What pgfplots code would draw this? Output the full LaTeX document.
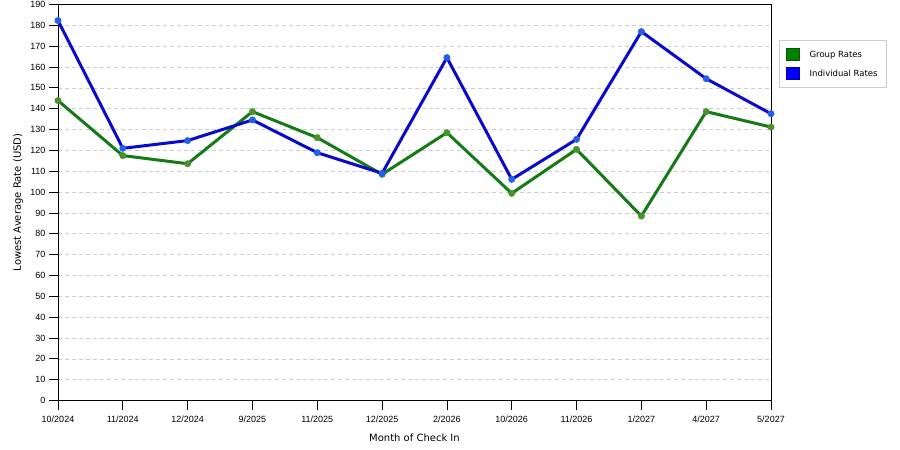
\documentclass[border=0pt]{standalone}
\usepackage{pgfplots}
\pgfplotsset{compat=1.18}
\usepackage{fontspec}
\setmainfont{DejaVu Sans}
\newfontfamily\tickfont{Liberation Sans}
\definecolor{gline}{RGB}{22,122,22}
\definecolor{bline}{RGB}{10,10,205}
\definecolor{gmark}{RGB}{75,145,45}
\definecolor{bmark}{RGB}{35,95,235}
\definecolor{gridc}{RGB}{205,205,205}
\definecolor{legg}{RGB}{0,128,0}
\definecolor{legb}{RGB}{0,0,255}
\begin{document}
\begin{tikzpicture}
\useasboundingbox (0pt,0pt) rectangle (900pt,450pt);
\begin{axis}[
  at={(58pt,49.5pt)}, anchor=south west,
  scale only axis, width=713pt, height=396pt,
  xmin=0, xmax=11, ymin=0, ymax=190,
  xtick={0,...,11},
  xticklabels={10/2024,11/2024,12/2024,9/2025,11/2025,12/2025,2/2026,10/2026,11/2026,1/2027,4/2027,5/2027},
  ytick={0,10,...,190},
  tick align=outside, tick pos=left,
  major tick length=9pt,
  tick style={black, line width=0.8pt},
  axis line style={black, line width=0.9pt},
  ymajorgrids,
  grid style={gridc, dash pattern=on 4pt off 3pt, line width=0.6pt},
  every tick label/.append style={font=\tickfont\fontsize{9}{10}\selectfont},
  /pgf/number format/assume math mode=true,
  xticklabel style={yshift=-2.5pt},
  xlabel={Month of Check In},
  ylabel={Lowest Average Rate (USD)},
  label style={font=\fontsize{8.5}{10}\selectfont},
  every axis x label/.style={at={(axis description cs:0.5,-0.0934)}, anchor=center},
  every axis y label/.style={at={(axis description cs:-0.0561,0.5)}, anchor=center, rotate=90},
  legend style={at={(1,1)}, anchor=north west, xshift=8pt, yshift=-35.5pt,
    draw={rgb,255:red,205;green,205;blue,205}, line width=0.6pt,
    font=\fontsize{8.5}{10}\selectfont, inner xsep=7pt, inner ysep=7.5pt,
    row sep=6pt, cells={anchor=west}},
  clip=false,
]
\addplot[gline, line width=3pt, mark=*, mark size=3.2pt,
  mark options={fill=gmark, draw=gmark, line width=0.5pt},
  legend image code/.code={\draw[fill=legg, draw=legg!70!black, line width=0.6pt] (0pt,-6pt) rectangle (12.5pt,6.5pt);
    \path[draw=none,fill=none] (0pt,0pt) -- (21pt,0pt);}]
  coordinates {(0,143.9) (1,117.5) (2,113.6) (3,138.6) (4,126.1) (5,108.5) (6,128.5) (7,99.4) (8,120.5) (9,88.5) (10,138.6) (11,131.2)};
\addlegendentry{Group Rates}
\addplot[bline, line width=3pt, mark=*, mark size=3.2pt,
  mark options={fill=bmark, draw=bmark, line width=0.5pt},
  legend image code/.code={\draw[fill=legb, draw=legb!70!black, line width=0.6pt] (0pt,-6pt) rectangle (12.5pt,6.5pt);
    \path[draw=none,fill=none] (0pt,0pt) -- (21pt,0pt);}]
  coordinates {(0,182.3) (1,121.0) (2,124.7) (3,134.6) (4,118.9) (5,109.0) (6,164.5) (7,106.1) (8,125.3) (9,177.0) (10,154.4) (11,137.6)};
\addlegendentry{Individual Rates}
\end{axis}
\end{tikzpicture}
\end{document}
